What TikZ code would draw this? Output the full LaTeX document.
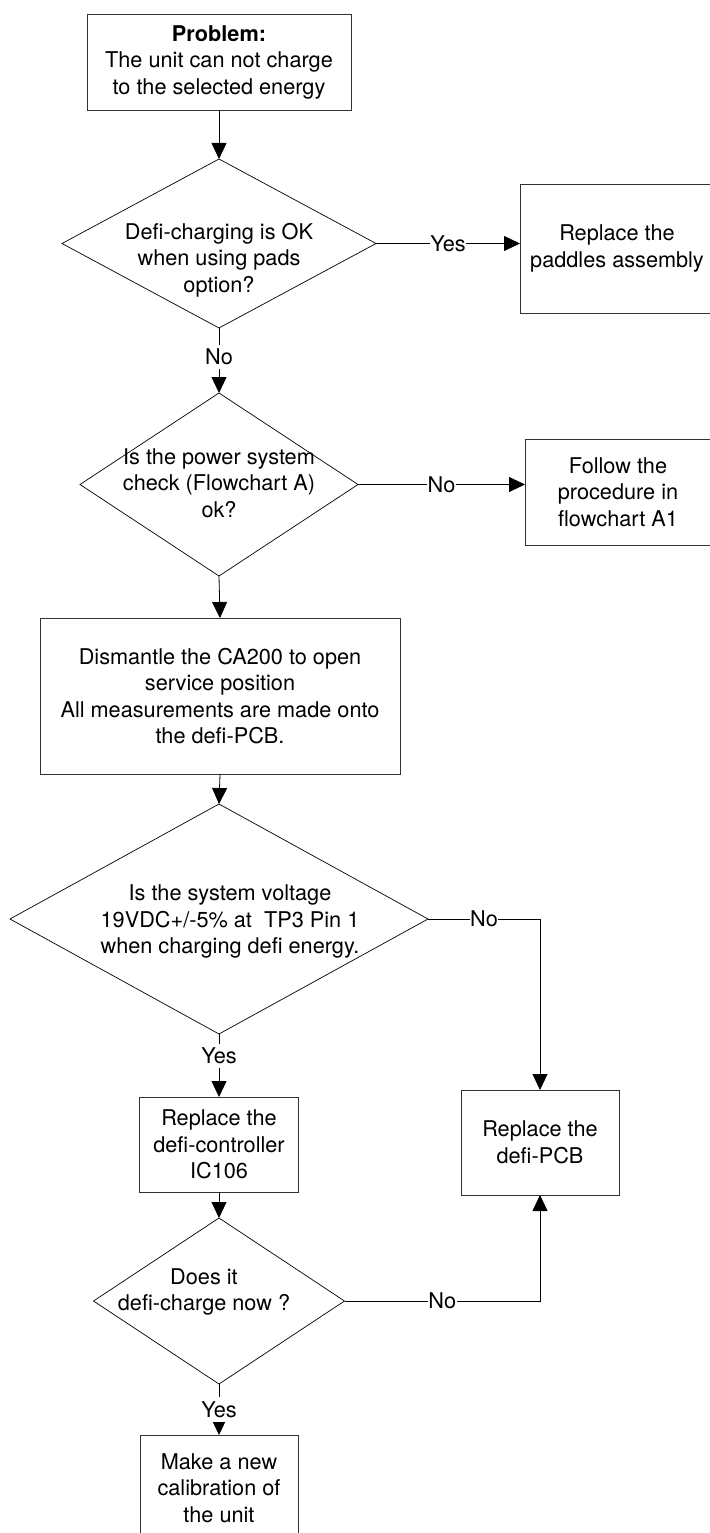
\documentclass[tikz,border=0pt]{standalone}
\usepackage{fontspec}
\setmainfont{TeX Gyre Heros}
\usetikzlibrary{arrows.meta, shapes.geometric}

\tikzset{
  stepbox/.style={draw=black!80, line width=0.9pt, align=center, inner sep=0pt, outer sep=0pt},
  decision/.style={draw, diamond, line width=0.7pt, inner sep=0pt, outer sep=0pt},
  qtext/.style={align=center, inner sep=0pt},
  arr/.style={line width=0.8pt, -{Triangle[length=16pt,width=15pt]}},
  lbl/.style={fill=white, inner xsep=0.5pt, inner ysep=4pt},
}

\begin{document}
\begin{tikzpicture}[x=1pt, y=-1pt, font=\fontsize{21.7}{26.5}\selectfont]
  \useasboundingbox (0,0) rectangle (709,1533);

  % Start
  \node[stepbox, minimum width=264pt, minimum height=96pt] (prob) at (219,62)
    {\textbf{Problem:}\\The unit can not charge\\to the selected energy};

  % Pads check
  \node[decision, minimum width=314pt, minimum height=169pt] (d1) at (219,243.5) {};
  \node[qtext] (q1) at (219,260) {Defi-charging is OK\\when using pads\\option?};
  \node[stepbox, minimum width=194pt, minimum height=129pt] (paddles) at (617,248.5)
    {Replace the\\paddles assembly};

  % Power system check
  \node[decision, minimum width=278pt, minimum height=183pt] (d2) at (219,484.5) {};
  \node[qtext] (q2) at (219,483) {Is the power system\\check (Flowchart A)\\ok?};
  \node[stepbox, minimum width=186pt, minimum height=106pt] (follow) at (618,492)
    {Follow the\\procedure in\\flowchart A1};

  \node[stepbox, minimum width=360pt, minimum height=156pt] (dism) at (220,696)
    {Dismantle the CA200 to open\\service position\\All measurements are made onto\\the defi-PCB.};

  % Voltage check
  \node[decision, minimum width=418pt, minimum height=230pt] (d3) at (219,919) {};
  \node[qtext] (q3) at (230,921.5) {Is the system voltage\\19VDC+/-5\% at \ TP3 Pin 1\\when charging defi energy.};
  \node[stepbox, minimum width=159pt, minimum height=95pt] (ctrl) at (219,1144.5)
    {Replace the\\defi-controller\\IC106};
  \node[stepbox, minimum width=158pt, minimum height=105pt] (pcb) at (540,1142.5)
    {Replace the\\defi-PCB};

  % Charge check
  \node[decision, minimum width=251pt, minimum height=166pt] (d4) at (219,1301) {};
  \node[qtext] (q4) at (204,1292) {Does it\\defi-charge now ?};
  \node[stepbox, minimum width=158pt, minimum height=106pt] (calib) at (219,1488)
    {Make a new\\calibration of\\the unit};

  % Connectors
  \draw[arr] (prob.south) -- (d1.north);
  \draw[arr] (d1.east) -- node[lbl] {Yes} (d1.east -| paddles.west);
  \draw[arr] (d1.south) -- node[lbl, pos=0.45] {No} (d2.north);
  \draw[arr] (d2.east) -- node[lbl] {No} (d2.east -| follow.west);
  \draw[arr] (d2.south) -- (dism.north);
  \draw[arr] (dism.south) -- (d3.north);
  \draw[arr] (d3.south) -- node[lbl, pos=0.35] {Yes} (ctrl.north);
  \draw[arr] (d3.east) -| node[lbl, pos=0.25] {No} (pcb.north);
  \draw[arr] (ctrl.south) -- (d4.north);
  \draw[arr] (d4.east) -| node[lbl, pos=0.25] {No} (pcb.south);
  \draw[arr] (d4.south) -- node[lbl] {Yes} (calib.north);
\end{tikzpicture}
\end{document}
